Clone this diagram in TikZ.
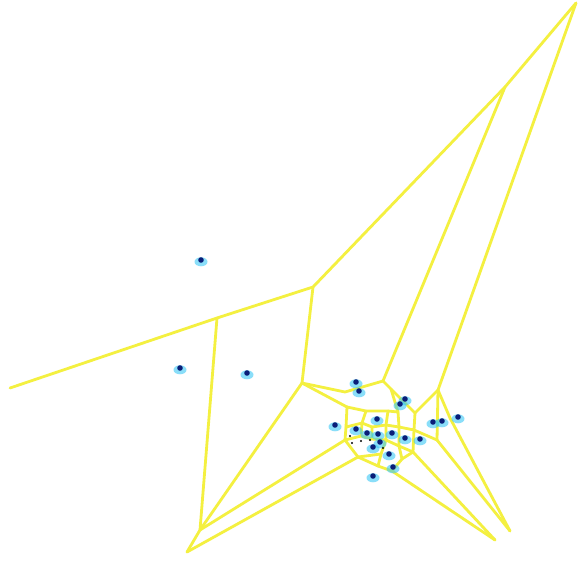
\documentclass[tikz,border=0pt]{standalone}
\begin{document}
\begin{tikzpicture}[x=1pt,y=-1pt,
  vedge/.style={draw=vyel,line width=2.8pt,line cap=round,line join=round},
  halo/.style={fill=vcyan,draw=none},
  core/.style={fill=vnavy,draw=none},
  speck/.style={fill=black,draw=none}]
\definecolor{vyel}{RGB}{244,240,64}
\definecolor{vcyan}{RGB}{60,200,245}
\definecolor{vnavy}{RGB}{10,30,120}
\useasboundingbox[fill=white] (0,0) rectangle (581,563);
% outer vertices
\coordinate (A) at (576,3);
\coordinate (B) at (505,87);
\coordinate (C) at (313,287);
\coordinate (G) at (217,318);
\coordinate (L) at (10,388);
\coordinate (D) at (302,383);
\coordinate (E) at (200,530);
\coordinate (F) at (187,552);
\coordinate (H) at (383,381);
\coordinate (I) at (438,390);
\coordinate (BRa) at (495,540);
\coordinate (BRb) at (510,531);
% middle vertices
\coordinate (P1) at (345,392);
\coordinate (P2) at (347,407);
\coordinate (P3) at (391,389);
\coordinate (P4) at (415,413);
\coordinate (Q1) at (450,418);
\coordinate (N1) at (437,440);
\coordinate (N2) at (413,452);
\coordinate (N3) at (392,471);
% inner vertices
\coordinate (K2) at (366,411);
\coordinate (K3) at (388,411);
\coordinate (K4) at (398,412);
\coordinate (K5) at (346,427);
\coordinate (K6) at (362,423);
\coordinate (K7) at (372,427);
\coordinate (K8) at (386,425);
\coordinate (K9) at (399,427);
\coordinate (K10) at (414,430);
\coordinate (K11) at (345,440);
\coordinate (K12) at (361,436);
\coordinate (K13) at (372,439);
\coordinate (K14) at (386,440);
\coordinate (K15) at (399,446);
\coordinate (K16) at (358,457);
\coordinate (K17) at (381,454);
\coordinate (K18) at (402,459);
\coordinate (K19) at (378,466);
% outer edges
\draw[vedge] (A) -- (B) -- (C) -- (G) -- (L);
\draw[vedge] (B) -- (H);
\draw[vedge] (A) -- (I);
\draw[vedge] (G) -- (E) -- (F);
\draw[vedge] (C) -- (D) -- (E);
\draw[vedge] (K11) -- (E);
\draw[vedge] (K16) -- (F);
\draw[vedge] (N1) -- (BRb);
\draw[vedge] (I) -- (Q1) -- (BRb);
\draw[vedge] (N2) -- (BRa);
\draw[vedge] (N3) -- (BRa);
% middle edges
\draw[vedge] (D) -- (P1) -- (H);
\draw[vedge] (H) -- (P3) -- (P4) -- (I);
\draw[vedge] (I) -- (N1);
\draw[vedge] (D) -- (P2);
% inner edges
\draw[vedge] (P2) -- (K2) -- (K3) -- (K4) -- (P3);
\draw[vedge] (K4) -- (K9);
\draw[vedge] (P2) -- (K5) -- (K6) -- (K2);
\draw[vedge] (K6) -- (K7) -- (K8) -- (K3);
\draw[vedge] (K8) -- (K9) -- (K10) -- (P4);
\draw[vedge] (K10) -- (N1);
\draw[vedge] (K10) -- (N2);
\draw[vedge] (K5) -- (K11) -- (K12) -- (K6);
\draw[vedge] (K12) -- (K13) -- (K7);
\draw[vedge] (K13) -- (K14) -- (K8);
\draw[vedge] (K14) -- (K15) -- (K9);
\draw[vedge] (K15) -- (N2);
\draw[vedge] (K15) -- (K18) -- (N2);
\draw[vedge] (K18) -- (N3) -- (K19) -- (K17) -- (K14);
\draw[vedge] (K17) -- (K16) -- (K11);
\draw[vedge] (K19) -- (K16);
% sites
\foreach \p in {(201,260),(180,368),(247,373),(356,382),(359,391),(405,399),(400,404),
  (335,425),(377,419),(356,429),(367,433),(378,434),(392,433),(405,438),(420,439),
  (380,442),(373,447),(389,454),(393,467),(373,476),(433,422),(442,421),(458,417)}{
  \fill[halo,opacity=0.6] \p ++(0,1.8) ellipse (6.5 and 4.5);
  \fill[core] \p circle (2.8);
}
\foreach \p in {(352,443),(350,436),(361,441),(383,448),(370,440)}{
  \fill[speck] \p circle (1.1);
}
\end{tikzpicture}
\end{document}
